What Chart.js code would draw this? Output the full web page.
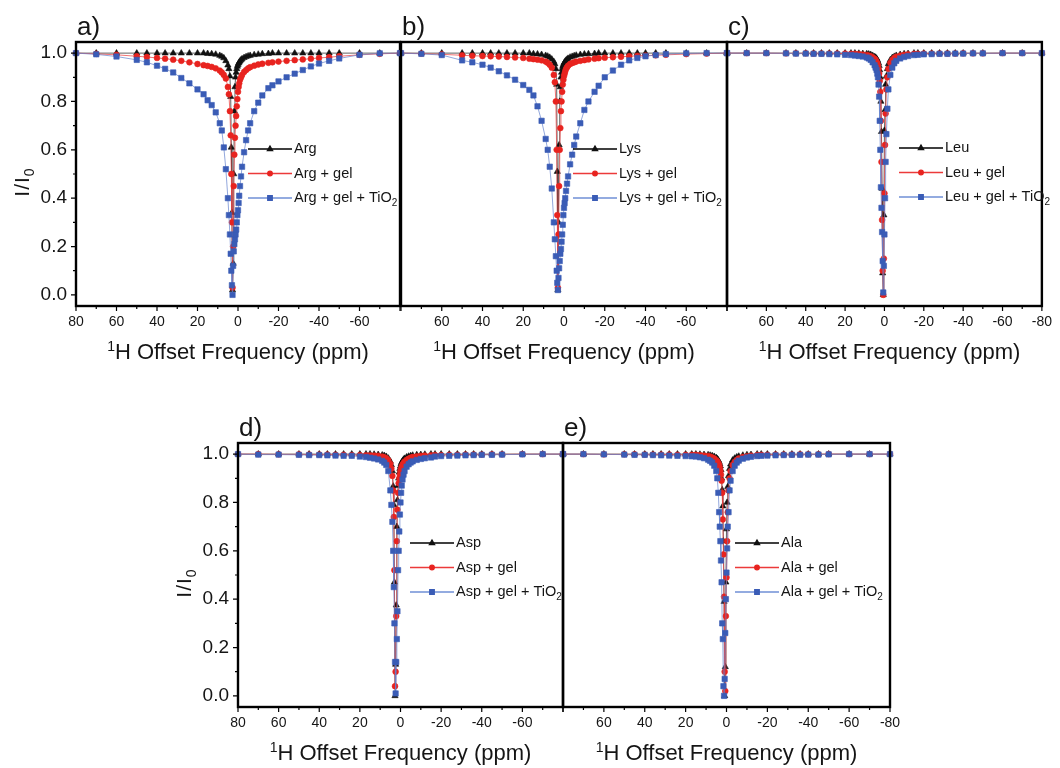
<!DOCTYPE html>
<html>
<head>
<meta charset="utf-8">
<title>Z-spectra</title>
<script src="https://cdn.jsdelivr.net/npm/chart.js"></script>
<style>
  body { margin: 0; background: #fff; }
  #wrap { position: relative; width: 1060px; height: 768px; overflow: hidden; font-family: "Liberation Sans", Arial, sans-serif; color: #151515; }
  #wrap canvas { position: absolute; left: 0; top: 0; }
  .tag { position: absolute; font-size: 26px; line-height: 26px; }
  .xt { position: absolute; font-size: 22px; line-height: 22px; white-space: nowrap; transform: translateX(-50%); }
  .xt .sup { font-size: 14px; position: relative; top: -8px; }
  .yt { position: absolute; font-size: 21px; line-height: 21px; letter-spacing: 1px; white-space: nowrap; transform: translate(-50%, -50%) rotate(-90deg); }
  .yt sub { font-size: 14px; vertical-align: -5px; line-height: 0; }
</style>
</head>
<body>
<div id="wrap"></div>
<script>
// saturation offsets (ppm), shared by every series
const offsets = [
  80, 70, 60, 50, 45, 40, 36, 32, 28, 24, 20, 17,
  15, 13, 11, 9, 8, 7, 6, 5, 4.5, 4, 3.6, 3.3, 3, 2.7, 2.4, 2.1, 1.8, 1.5,
  1.2, 0.9, 0.6, 0.3, 0, -0.3, -0.6, -1, -1.5, -2, -3, -4, -5, -6, -8, -10, -12, -15,
  -17, -20, -24, -28, -32, -36, -40, -45, -50, -60, -70, -80
];

// a) Arg
const arg = [
  1, 1, 1, 1, 1, 1, 1, 1, 1, 1, 1, 1,
  0.998, 0.997, 0.995, 0.99, 0.986, 0.98, 0.968, 0.95, 0.935, 0.905, 0.82, 0.61, 0.34, 0.02, 0.13, 0.5, 0.76, 0.86,
  0.9, 0.92, 0.935, 0.945, 0.952, 0.958, 0.962, 0.967, 0.972, 0.976, 0.981, 0.985, 0.988, 0.99, 0.993, 0.995, 0.997, 0.998,
  1, 1, 1, 1, 1, 1, 1, 1, 1, 1, 1, 1
];
const argGel = [
  1.0, 0.997, 0.993, 0.987, 0.984, 0.98, 0.977, 0.973, 0.968, 0.962, 0.955, 0.95,
  0.947, 0.943, 0.937, 0.928, 0.92, 0.91, 0.895, 0.86, 0.83, 0.76, 0.66, 0.5, 0.3, 0.03, 0.2, 0.45, 0.58, 0.65,
  0.7, 0.74, 0.78, 0.81, 0.84, 0.86, 0.875, 0.89, 0.9, 0.91, 0.922, 0.93, 0.937, 0.942, 0.948, 0.953, 0.956, 0.96,
  0.962, 0.965, 0.968, 0.971, 0.974, 0.977, 0.98, 0.983, 0.987, 0.993, 0.997, 1.0
];
const argGelTiO2 = [
  1.0, 0.995, 0.986, 0.972, 0.962, 0.948, 0.935, 0.92, 0.897, 0.875, 0.85, 0.83,
  0.805, 0.785, 0.755, 0.71, 0.68, 0.61, 0.52, 0.4, 0.33, 0.25, 0.17, 0.1, 0.04, 0.0, 0.12, 0.18, 0.21, 0.23,
  0.25, 0.27, 0.3, 0.33, 0.35, 0.38, 0.41, 0.45, 0.49, 0.53, 0.59, 0.64, 0.68, 0.71, 0.76, 0.795, 0.825, 0.855,
  0.867, 0.883, 0.9, 0.915, 0.93, 0.945, 0.957, 0.968, 0.978, 0.993, 0.999, 1.0
];

// b) Lys
const lys = [
  1, 1, 1, 1, 1, 1, 1, 1, 1, 1, 1, 1,
  0.997, 0.996, 0.994, 0.99, 0.987, 0.982, 0.975, 0.965, 0.955, 0.935, 0.87, 0.51, 0.02, 0.3, 0.62, 0.8, 0.86, 0.9,
  0.92, 0.935, 0.945, 0.952, 0.958, 0.962, 0.966, 0.97, 0.974, 0.978, 0.983, 0.986, 0.989, 0.991, 0.994, 0.996, 0.997, 0.998,
  1, 1, 1, 1, 1, 1, 1, 1, 1, 1, 1, 1
];
const lysGel = [
  1.0, 0.998, 0.995, 0.991, 0.989, 0.988, 0.987, 0.986, 0.984, 0.982, 0.98, 0.977,
  0.975, 0.973, 0.97, 0.965, 0.96, 0.952, 0.94, 0.91, 0.88, 0.8, 0.6, 0.33, 0.03, 0.25, 0.45, 0.6, 0.69, 0.76,
  0.8, 0.84, 0.87, 0.89, 0.905, 0.915, 0.925, 0.935, 0.942, 0.948, 0.955, 0.959, 0.962, 0.965, 0.968, 0.971, 0.974, 0.977,
  0.979, 0.981, 0.983, 0.985, 0.987, 0.989, 0.99, 0.991, 0.993, 0.996, 0.998, 1.0
];
const lysGelTiO2 = [
  1.0, 0.997, 0.992, 0.97, 0.962, 0.952, 0.94, 0.925, 0.908, 0.89, 0.868, 0.848,
  0.825, 0.78, 0.72, 0.645, 0.6, 0.53, 0.44, 0.3, 0.23, 0.16, 0.1, 0.05, 0.02, 0.07, 0.11, 0.14, 0.17, 0.19,
  0.22, 0.25, 0.29, 0.33, 0.36, 0.38, 0.4, 0.43, 0.46, 0.49, 0.54, 0.58, 0.62, 0.655, 0.71, 0.765, 0.8, 0.84,
  0.865, 0.9, 0.928, 0.952, 0.97, 0.98, 0.987, 0.992, 0.996, 0.999, 1.0, 1.0
];

// c) Leu
const leu = [
  1, 1, 1, 1, 1, 1, 1, 1, 1, 1, 1, 1,
  1.0, 0.999, 0.998, 0.997, 0.996, 0.994, 0.99, 0.985, 0.982, 0.978, 0.972, 0.965, 0.958, 0.948, 0.93, 0.9, 0.8, 0.675,
  0.44, 0.09, 0.0, 0.33, 0.68, 0.765, 0.87, 0.905, 0.935, 0.955, 0.972, 0.981, 0.986, 0.99, 0.994, 0.997, 0.998, 1.0,
  1, 1, 1, 1, 1, 1, 1, 1, 1, 1, 1, 1
];
const leuGel = [
  1.0, 1.0, 1.0, 0.999, 0.999, 0.999, 0.998, 0.998, 0.998, 0.998, 0.998, 0.997,
  0.997, 0.996, 0.994, 0.992, 0.99, 0.987, 0.983, 0.977, 0.972, 0.965, 0.957, 0.948, 0.935, 0.915, 0.885, 0.84, 0.72, 0.55,
  0.31, 0.1, 0.0, 0.15, 0.42, 0.62, 0.75, 0.85, 0.9, 0.935, 0.96, 0.972, 0.98, 0.985, 0.99, 0.993, 0.995, 0.997,
  0.997, 0.998, 0.998, 0.998, 0.998, 0.998, 0.999, 0.999, 0.999, 1.0, 1.0, 1.0
];
const leuGelTiO2 = [
  1.0, 1.0, 1.0, 0.999, 0.998, 0.998, 0.997, 0.997, 0.996, 0.995, 0.993, 0.992,
  0.99, 0.988, 0.986, 0.982, 0.978, 0.972, 0.962, 0.95, 0.94, 0.93, 0.915, 0.9, 0.87, 0.82, 0.72, 0.6, 0.445, 0.36,
  0.26, 0.14, 0.01, 0.12, 0.25, 0.4, 0.55, 0.665, 0.77, 0.85, 0.91, 0.94, 0.958, 0.968, 0.978, 0.984, 0.988, 0.992,
  0.993, 0.995, 0.996, 0.997, 0.997, 0.998, 0.998, 0.999, 0.999, 1.0, 1.0, 1.0
];

// d) Asp
const asp = [
  1, 1, 1, 1, 1, 1, 1, 1, 1, 1, 1, 1,
  1.0, 0.999, 0.998, 0.996, 0.994, 0.99, 0.983, 0.97, 0.955, 0.93, 0.867, 0.79, 0.47, 0.0, 0.13, 0.375, 0.7, 0.81,
  0.87, 0.9, 0.925, 0.94, 0.95, 0.96, 0.966, 0.972, 0.978, 0.982, 0.988, 0.991, 0.993, 0.995, 0.997, 0.998, 0.999, 1.0,
  1, 1, 1, 1, 1, 1, 1, 1, 1, 1, 1, 1
];
const aspGel = [
  1.0, 1.0, 0.999, 0.999, 0.998, 0.998, 0.998, 0.997, 0.997, 0.996, 0.996, 0.995,
  0.995, 0.994, 0.993, 0.99, 0.987, 0.983, 0.975, 0.96, 0.94, 0.91, 0.85, 0.74, 0.52, 0.04, 0.1, 0.33, 0.64, 0.77,
  0.84, 0.88, 0.9, 0.915, 0.93, 0.94, 0.948, 0.956, 0.963, 0.969, 0.976, 0.981, 0.985, 0.988, 0.991, 0.993, 0.994, 0.995,
  0.996, 0.996, 0.997, 0.997, 0.998, 0.998, 0.998, 0.999, 0.999, 1.0, 1.0, 1.0
];
const aspGelTiO2 = [
  1.0, 0.998, 0.998, 0.997, 0.996, 0.996, 0.995, 0.994, 0.993, 0.993, 0.99, 0.988,
  0.985, 0.982, 0.978, 0.972, 0.965, 0.955, 0.93, 0.85, 0.79, 0.72, 0.6, 0.45, 0.3, 0.14, 0.01, 0.14, 0.235, 0.35,
  0.52, 0.6, 0.68, 0.75, 0.8, 0.84, 0.87, 0.895, 0.915, 0.93, 0.948, 0.958, 0.965, 0.97, 0.976, 0.98, 0.983, 0.986,
  0.99, 0.992, 0.993, 0.994, 0.995, 0.996, 0.997, 0.997, 0.998, 0.999, 1.0, 1.0
];

// e) Ala
const ala = [
  1, 1, 1, 1, 1, 1, 1, 1, 1, 1, 1, 1,
  1.0, 0.999, 0.998, 0.997, 0.995, 0.993, 0.99, 0.985, 0.98, 0.975, 0.968, 0.96, 0.95, 0.935, 0.9, 0.852, 0.785, 0.64,
  0.39, 0.0, 0.12, 0.47, 0.69, 0.8, 0.865, 0.91, 0.94, 0.958, 0.975, 0.983, 0.988, 0.991, 0.995, 0.997, 0.998, 1.0,
  1, 1, 1, 1, 1, 1, 1, 1, 1, 1, 1, 1
];
const alaGel = [
  1.0, 1.0, 0.999, 0.999, 0.999, 0.998, 0.998, 0.998, 0.998, 0.997, 0.997, 0.997,
  0.997, 0.996, 0.994, 0.992, 0.99, 0.986, 0.982, 0.975, 0.97, 0.963, 0.955, 0.945, 0.93, 0.915, 0.89, 0.84, 0.73, 0.585,
  0.41, 0.1, 0.02, 0.33, 0.49, 0.64, 0.76, 0.85, 0.9, 0.93, 0.955, 0.968, 0.976, 0.982, 0.988, 0.991, 0.994, 0.996,
  0.997, 0.997, 0.998, 0.998, 0.998, 0.999, 0.999, 0.999, 1.0, 1.0, 1.0, 1.0
];
const alaGelTiO2 = [
  1.0, 1.0, 0.999, 0.998, 0.997, 0.997, 0.996, 0.995, 0.994, 0.993, 0.992, 0.991,
  0.99, 0.987, 0.983, 0.977, 0.972, 0.965, 0.952, 0.93, 0.9, 0.84, 0.76, 0.7, 0.64, 0.56, 0.47, 0.3, 0.235, 0.04,
  0.0, 0.07, 0.26, 0.4, 0.51, 0.61, 0.7, 0.76, 0.85, 0.89, 0.93, 0.952, 0.965, 0.973, 0.981, 0.986, 0.989, 0.992,
  0.993, 0.994, 0.995, 0.996, 0.997, 0.997, 0.998, 0.998, 0.999, 1.0, 1.0, 1.0
];

// axis ticks
const xMajorTicks = [80, 60, 40, 20, 0, -20, -40, -60, -80];
const xMinorTicks = [70, 50, 30, 10, -10, -30, -50, -70];
const yMajorTicks = [0, 0.2, 0.4, 0.6, 0.8, 1.0];
const yMinorTicks = [0.1, 0.3, 0.5, 0.7, 0.9];

const FONT = '"Liberation Sans", Arial, sans-serif';
const wrap = document.getElementById('wrap');

// marker / line look for the three samples
const looks = [
  { suffix: '', order: 3, pointStyle: 'triangle', radius: 3.6, line: 'rgba(30,30,30,0.7)', key: '#000000', fill: '#111111' },
  { suffix: ' + gel', order: 2, pointStyle: 'circle', radius: 2.9, line: 'rgba(236,70,70,0.75)', key: '#ec3a3a', fill: '#e8231f' },
  { suffix: ' + gel + TiO₂', order: 1, pointStyle: 'rect', radius: 3.8, line: 'rgba(100,130,205,0.7)', key: '#6f8fd6', fill: '#3a5cb6' }
];

// plot box = [left, top, right, bottom] in page pixels
const panels = [
  { tag: 'a)', name: 'Arg', box: [76, 42, 400, 306], yAxis: true, hide: [-80], legendDy: 107, series: [arg, argGel, argGelTiO2] },
  { tag: 'b)', name: 'Lys', box: [401, 42, 727, 306], yAxis: false, hide: [80, -80], legendDy: 107, series: [lys, lysGel, lysGelTiO2] },
  { tag: 'c)', name: 'Leu', box: [727, 42, 1052, 306], yAxis: false, hide: [80], legendDy: 106, series: [leu, leuGel, leuGelTiO2] },
  { tag: 'd)', name: 'Asp', box: [238, 443, 563, 707], yAxis: true, hide: [-80], legendDy: 100, series: [asp, aspGel, aspGelTiO2] },
  { tag: 'e)', name: 'Ala', box: [563, 443, 890, 707], yAxis: false, hide: [80], legendDy: 100, series: [ala, alaGel, alaGelTiO2] }
];

// box outline + outward tick marks
const framePlugin = {
  id: 'frame',
  afterDraw(chart, args, opts) {
    const { ctx, chartArea: a, scales } = chart;
    ctx.save();
    ctx.strokeStyle = '#000';
    ctx.lineWidth = 1.2;
    ctx.beginPath();
    xMajorTicks.forEach(v => { const px = scales.x.getPixelForValue(v); ctx.moveTo(px, a.bottom); ctx.lineTo(px, a.bottom + 5); });
    xMinorTicks.forEach(v => { const px = scales.x.getPixelForValue(v); ctx.moveTo(px, a.bottom); ctx.lineTo(px, a.bottom + 3); });
    if (opts.yAxis) {
      yMajorTicks.forEach(v => { const py = scales.y.getPixelForValue(v); ctx.moveTo(a.left, py); ctx.lineTo(a.left - 5, py); });
      yMinorTicks.forEach(v => { const py = scales.y.getPixelForValue(v); ctx.moveTo(a.left, py); ctx.lineTo(a.left - 3, py); });
    }
    ctx.stroke();
    ctx.lineWidth = 2.4;
    ctx.strokeRect(a.left, a.top, a.right - a.left, a.bottom - a.top);
    ctx.restore();
  }
};

// legend drawn inside the plot area
const insetLegend = {
  id: 'insetLegend',
  afterDraw(chart, args, opts) {
    const { ctx, chartArea: a } = chart;
    const x0 = a.left + 172;
    ctx.save();
    chart.data.datasets.forEach((ds, i) => {
      const y = a.top + opts.dy + i * 24.5;
      ctx.strokeStyle = ds.keyColor;
      ctx.lineWidth = 1.3;
      ctx.beginPath();
      ctx.moveTo(x0, y);
      ctx.lineTo(x0 + 44, y);
      ctx.stroke();
      ctx.fillStyle = ds.pointBackgroundColor;
      ctx.strokeStyle = ds.pointBorderColor;
      Chart.helpers.drawPoint(ctx, { pointStyle: ds.pointStyle, radius: ds.pointRadius - 0.6, rotation: 0, borderWidth: 0.6 }, x0 + 22, y);
      ctx.fillStyle = '#151515';
      ctx.textBaseline = 'middle';
      ctx.font = '14.5px ' + FONT;
      let text = ds.label;
      const sub = text.endsWith('₂');
      if (sub) text = text.slice(0, -1);
      ctx.fillText(text, x0 + 46, y);
      if (sub) {
        const w = ctx.measureText(text).width;
        ctx.font = '10px ' + FONT;
        ctx.fillText('2', x0 + 46 + w, y + 5);
      }
    });
    ctx.restore();
  }
};

function addText(cls, html, left, top) {
  const d = document.createElement('div');
  d.className = cls;
  d.innerHTML = html;
  d.style.left = left + 'px';
  d.style.top = top + 'px';
  wrap.appendChild(d);
}

panels.forEach(p => {
  const [l, t, r, b] = p.box;
  const yW = p.yAxis ? 46 : 0;
  const xH = 30;
  const canvas = document.createElement('canvas');
  canvas.width = 1060;
  canvas.height = 768;
  wrap.appendChild(canvas);

  const datasets = looks.map((lk, i) => ({
    label: p.name + lk.suffix,
    data: offsets.map((x, k) => ({ x: x, y: p.series[i][k] })),
    showLine: true,
    order: lk.order,
    borderColor: lk.line,
    keyColor: lk.key,
    borderWidth: 1,
    tension: 0,
    pointStyle: lk.pointStyle,
    pointRadius: lk.radius,
    pointBackgroundColor: lk.fill,
    pointBorderColor: lk.fill,
    pointBorderWidth: 0.6,
    clip: false
  }));

  new Chart(canvas, {
    type: 'scatter',
    data: { datasets: datasets },
    options: {
      responsive: false,
      animation: false,
      events: [],
      layout: { padding: { left: l - yW, top: t, right: 1060 - r, bottom: 768 - b - xH } },
      scales: {
        x: {
          type: 'linear', min: -80, max: 80, reverse: true,
          afterFit: s => { s.height = xH; },
          afterBuildTicks: s => { s.ticks = xMajorTicks.map(v => ({ value: v })); },
          grid: { display: false, drawTicks: false },
          border: { display: false },
          ticks: {
            padding: 8, autoSkip: false, maxRotation: 0, color: '#151515',
            font: { family: FONT, size: 14 },
            callback: v => p.hide.includes(v) ? '' : String(v)
          }
        },
        y: {
          type: 'linear', min: -0.046, max: 1.046, display: p.yAxis,
          afterFit: s => { s.width = yW; },
          afterBuildTicks: s => { s.ticks = yMajorTicks.map(v => ({ value: v })); },
          grid: { display: false, drawTicks: false },
          border: { display: false },
          ticks: {
            padding: 9, color: '#151515',
            font: { family: FONT, size: 19 },
            callback: v => v.toFixed(1)
          }
        }
      },
      plugins: {
        legend: { display: false },
        tooltip: { enabled: false },
        frame: { yAxis: p.yAxis },
        insetLegend: { dy: p.legendDy }
      }
    },
    plugins: [framePlugin, insetLegend]
  });

  addText('tag', p.tag, l + 1, t - 29);
  addText('xt', '<span class="sup">1</span>H Offset Frequency (ppm)', (l + r) / 2, b + 35);
  if (p.yAxis) addText('yt', 'I/I<sub>0</sub>', l - 55, (t + b) / 2 + 8);
});
</script>
</body>
</html>
